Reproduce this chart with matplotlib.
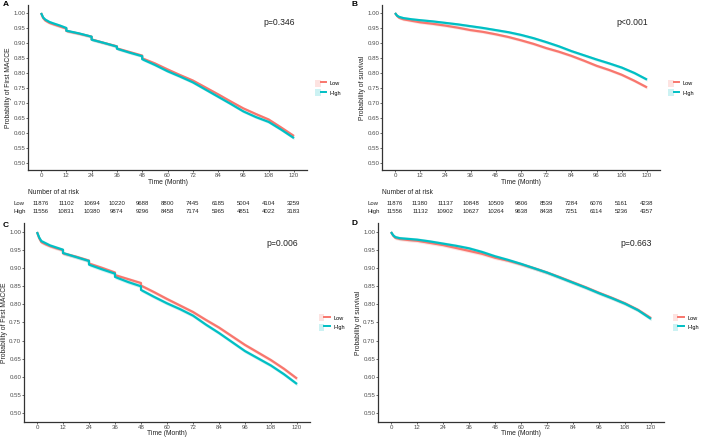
import matplotlib
matplotlib.use('Agg')
import matplotlib.pyplot as plt
from matplotlib.patches import Patch
from matplotlib.lines import Line2D
from matplotlib.legend_handler import HandlerTuple

plt.rcParams['font.family'] = ['Liberation Sans', 'DejaVu Sans']

# months and survival estimates
t_macce = [0, 1, 2, 4, 6, 9, 12, 12, 18, 24, 24, 30, 36, 36, 42, 48, 48, 54, 60, 66,
           72, 78, 84, 90, 96, 102, 108, 114, 120]
a_low = [1.00, 0.983, 0.975, 0.967, 0.962, 0.955, 0.948, 0.940, 0.931, 0.921, 0.912, 0.900,
         0.889, 0.882, 0.870, 0.858, 0.849, 0.832, 0.812, 0.793, 0.775, 0.752, 0.729, 0.705,
         0.682, 0.663, 0.645, 0.618, 0.590]
a_high = [1.00, 0.985, 0.978, 0.970, 0.965, 0.958, 0.950, 0.941, 0.932, 0.921, 0.911, 0.900,
          0.888, 0.881, 0.868, 0.856, 0.846, 0.827, 0.806, 0.788, 0.769, 0.745, 0.721, 0.697,
          0.672, 0.653, 0.637, 0.611, 0.583]
c_low = [1.00, 0.983, 0.972, 0.966, 0.961, 0.955, 0.950, 0.941, 0.932, 0.921, 0.913, 0.901,
         0.888, 0.881, 0.870, 0.859, 0.852, 0.834, 0.815, 0.797, 0.779, 0.757, 0.736, 0.712,
         0.688, 0.667, 0.646, 0.622, 0.595]
c_high = [1.00, 0.985, 0.975, 0.969, 0.963, 0.957, 0.951, 0.942, 0.931, 0.920, 0.910, 0.897,
          0.885, 0.876, 0.862, 0.850, 0.840, 0.821, 0.803, 0.787, 0.769, 0.744, 0.721, 0.696,
          0.671, 0.651, 0.631, 0.607, 0.580]

t_surv = [0, 1, 2, 4, 8, 12, 18, 24, 30, 36, 42, 48, 54, 60, 66, 72, 78, 84, 90, 96,
          102, 108, 114, 120]
b_low = [1.00, 0.990, 0.984, 0.979, 0.974, 0.969, 0.964, 0.958, 0.951, 0.943, 0.937, 0.929,
         0.920, 0.909, 0.897, 0.883, 0.871, 0.857, 0.841, 0.824, 0.810, 0.794, 0.774, 0.752]
b_high = [1.00, 0.991, 0.987, 0.983, 0.979, 0.976, 0.972, 0.967, 0.962, 0.956, 0.950, 0.943,
          0.936, 0.927, 0.916, 0.903, 0.889, 0.873, 0.859, 0.845, 0.832, 0.818, 0.800, 0.778]
d_low = [1.00, 0.990, 0.984, 0.981, 0.978, 0.976, 0.970, 0.964, 0.956, 0.948, 0.940, 0.929,
         0.921, 0.911, 0.900, 0.888, 0.875, 0.861, 0.847, 0.832, 0.818, 0.803, 0.785, 0.762]
d_high = [1.00, 0.991, 0.986, 0.983, 0.981, 0.979, 0.974, 0.968, 0.962, 0.955, 0.945, 0.933,
          0.923, 0.912, 0.900, 0.888, 0.874, 0.860, 0.846, 0.831, 0.817, 0.802, 0.784, 0.760]

risk_times = [0, 12, 24, 36, 48, 60, 72, 84, 96, 108, 120]
risk_macce_low = [11876, 11102, 10694, 10220, 9688, 8800, 7445, 6185, 5004, 4104, 3259]
risk_macce_high = [11556, 10831, 10380, 9874, 9296, 8458, 7174, 5965, 4851, 4022, 3183]
risk_surv_low = [11876, 11380, 11137, 10848, 10509, 9806, 8539, 7284, 6076, 5161, 4238]
risk_surv_high = [11556, 11132, 10902, 10627, 10264, 9638, 8438, 7251, 6114, 5236, 4357]

yticks = [0.50, 0.55, 0.60, 0.65, 0.70, 0.75, 0.80, 0.85, 0.90, 0.95, 1.00]
xticks = [0, 12, 24, 36, 48, 60, 72, 84, 96, 108, 120]

RED = '#F8766D'
CYAN = '#00BFC4'
GREY = '#4D4D4D'
INK = '#222222'
band = 0.005

W, H = 702, 440
fig = plt.figure(figsize=(W / 100, H / 100), dpi=100)


def px_axes(l, t, r, b):
    return fig.add_axes([l / W, 1 - b / H, (r - l) / W, (b - t) / H])


def panel(box, t, low, high, ylabel, pval, letter, letter_xy, ylab_x, xlab_y):
    l, top, r, b = box
    ax = px_axes(*box)
    for y, col in ((low, RED), (high, CYAN)):
        ax.fill_between(t, [v - band for v in y], [v + band for v in y], color=col,
                        alpha=0.2, lw=0)
        ax.plot(t, y, color=col, lw=1.6, solid_capstyle='butt')
    ax.set_xlim(-6, 126)
    ax.set_ylim(0.475, 1.025)
    ax.set_xticks(xticks)
    ax.set_yticks(yticks)
    ax.set_yticklabels([f'{v:.2f}' for v in yticks])
    ax.tick_params(labelsize=4.4, colors=GREY, length=1.6, width=0.6, pad=0.4)
    for s in ('top', 'right'):
        ax.spines[s].set_visible(False)
    for s in ('left', 'bottom'):
        ax.spines[s].set_linewidth(0.9)
        ax.spines[s].set_color('#333333')
    ax.set_xlabel('Time (Month)', fontsize=4.9, color=INK)
    ax.set_ylabel(ylabel, fontsize=4.9, color=INK)
    ax.yaxis.set_label_coords((ylab_x - l) / (r - l), 0.5)
    ax.xaxis.set_label_coords(0.5, (b - xlab_y) / (b - top))
    ax.xaxis.label.set_va('center')
    ax.yaxis.label.set_va('center')
    ax.text(113, 0.967, pval, fontsize=6.2, ha='center', va='center', color=INK)
    handles = [(Patch(color=RED, alpha=0.2, lw=0), Line2D([], [], color=RED, lw=1.4)),
               (Patch(color=CYAN, alpha=0.2, lw=0), Line2D([], [], color=CYAN, lw=1.4))]
    ax.legend(handles, ['Low', 'High'], handler_map={tuple: HandlerTuple(ndivide=None, pad=0)},
              loc='center left', bbox_to_anchor=(1.02, 0.5), frameon=False, fontsize=4,
              handlelength=1.9, handleheight=1.6, labelspacing=0.45, handletextpad=0.7,
              borderaxespad=0.2)
    fig.text(letter_xy[0] / W, 1 - letter_xy[1] / H, letter, fontsize=6,
             fontweight='bold', va='center', ha='left')
    return ax


def risk_table(box, low, high):
    tab = px_axes(*box)
    tab.set_xlim(-6, 126)
    tab.set_ylim(0, 3)
    tab.axis('off')
    tab.text(-6, 2.6, 'Number of at risk', fontsize=4.8, va='center', color=INK)
    for x, lo, hi in zip(risk_times, low, high):
        tab.text(x, 1.3, str(lo), fontsize=4.3, ha='center', va='center', color=INK)
        tab.text(x, 0.4, str(hi), fontsize=4.3, ha='center', va='center', color=INK)
    return tab


panel((28.4, 5.5, 306.6, 170.5), t_macce, a_low, a_high, 'Probability of First MACCE',
      'p=0.346', 'A', (3, 5), 9, 183)
panel((382.4, 5.5, 659.6, 170.5), t_surv, b_low, b_high, 'Probability of survival',
      'p<0.001', 'B', (352, 5), 363, 183)
panel((24, 223, 310, 422), t_macce, c_low, c_high, 'Probability of First MACCE',
      'p=0.006', 'C', (3, 225), 5, 433)
panel((378, 223, 664, 422), t_surv, d_low, d_high, 'Probability of survival',
      'p=0.663', 'D', (352, 223), 359, 433)

risk_table((28.4, 189, 306.6, 215), risk_macce_low, risk_macce_high)
risk_table((382.4, 189, 659.6, 215), risk_surv_low, risk_surv_high)
for xl, y in ((14, 203), (14, 211), (368, 203), (368, 211)):
    fig.text(xl / W, 1 - y / H, 'Low' if y == 203 else 'High', fontsize=4.3,
             va='center', color=INK)

fig.savefig('out.png', dpi=100, facecolor='white')
